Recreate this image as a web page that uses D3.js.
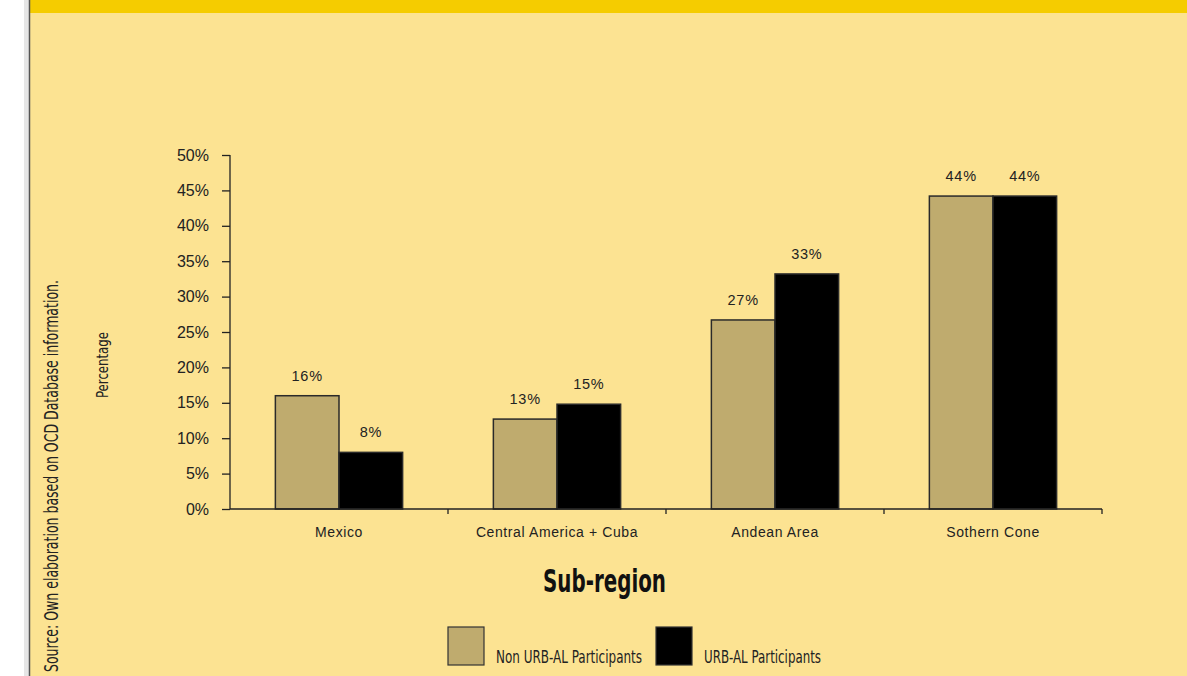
<!DOCTYPE html>
<html><head><meta charset="utf-8">
<script src="https://cdn.jsdelivr.net/npm/d3@7"></script>
<style>html,body{margin:0;padding:0;background:#fff;}svg{display:block;}</style>
</head><body>
<svg id="c" width="1187" height="676"></svg>
<script>
const categories = ["Mexico", "Central America + Cuba", "Andean Area", "Sothern Cone"];
const seriesNames = ["Non URB-AL Participants", "URB-AL Participants"];
const nonUrbal = [16, 12.7, 26.7, 44.2];
const urbal = [8, 14.8, 33.2, 44.2];
const valueLabels = [["16%", "8%"], ["13%", "15%"], ["27%", "33%"], ["44%", "44%"]];
const yTicks = [0, 5, 10, 15, 20, 25, 30, 35, 40, 45, 50];
const colors = ["#BFAB6E", "#000000"];

(function () {
const condensed = "'DejaVu Sans Condensed', 'DejaVu Sans', sans-serif";
const arial = "Arial, 'Liberation Sans', sans-serif";
const svg = d3.select("#c");
svg.append("rect").attr("x", 0).attr("y", 0).attr("width", 1187).attr("height", 676).attr("fill", "#ffffff");
svg.append("rect").attr("x", 24).attr("y", 0).attr("width", 5).attr("height", 676).attr("fill", "#e6e6e6");
svg.append("rect").attr("x", 30).attr("y", 0).attr("width", 1157).attr("height", 676).attr("fill", "#FCE392");
svg.append("rect").attr("x", 30).attr("y", 0).attr("width", 1157).attr("height", 13).attr("fill", "#F5CC00");
svg.append("line").attr("x1", 29.5).attr("x2", 29.5).attr("y1", 0).attr("y2", 676).attr("stroke", "#555").attr("stroke-width", 1.5);

const pL = 230, pR = 1102, pT = 155, pB = 509;
const x0 = d3.scaleBand().domain(categories).range([pL, pR]).paddingInner(0).paddingOuter(0);
const x1 = d3.scaleBand().domain([0, 1]).range([0, x0.bandwidth()]).paddingInner(0).paddingOuter(0.713);
const y = d3.scaleLinear().domain([0, 50]).range([pB, pT]);

const data = categories.map((c, i) => ({cat: c, vals: [nonUrbal[i], urbal[i]], labels: valueLabels[i]}));

const g = svg.append("g");
const groups = g.selectAll("g.grp").data(data).enter().append("g")
  .attr("transform", d => `translate(${x0(d.cat)},0)`);
groups.selectAll("rect").data(d => d.vals.map((v, j) => ({v, j}))).enter().append("rect")
  .attr("x", d => x1(d.j))
  .attr("y", d => y(d.v))
  .attr("width", x1.bandwidth())
  .attr("height", d => y(0) - y(d.v))
  .attr("fill", d => colors[d.j])
  .attr("stroke", "#2a2a2a").attr("stroke-width", 1.5);
groups.selectAll("text").data(d => d.vals.map((v, j) => ({v, j, l: d.labels[j]}))).enter().append("text")
  .attr("x", d => x1(d.j) + x1.bandwidth() / 2)
  .attr("y", d => y(d.v) - 15)
  .attr("text-anchor", "middle")
  .attr("font-family", arial)
  .attr("font-size", 14.5).attr("letter-spacing", 0.7).attr("fill", "#222")
  .text(d => d.l);

const yAxis = d3.axisLeft(y).tickValues(yTicks).tickFormat(d => d + "%").tickSize(8).tickPadding(13);
const ya = svg.append("g").attr("transform", `translate(${pL},0)`).call(yAxis);
ya.select(".domain").attr("stroke", "#222").attr("stroke-width", 1.3).attr("d", `M0,${pT}V${pB}`);
ya.selectAll(".tick line").attr("stroke", "#222").attr("stroke-width", 1.3);
ya.selectAll(".tick text").attr("font-family", arial).attr("font-size", 16).attr("fill", "#222");

const xa = svg.append("g").attr("transform", `translate(0,${pB})`)
  .call(d3.axisBottom(x0).tickSize(0).tickPadding(18));
xa.select(".domain").attr("stroke", "#222").attr("stroke-width", 1.3).attr("d", `M${pL},0H${pR}`);
xa.selectAll(".tick text").attr("font-family", arial).attr("font-size", 14).attr("fill", "#222").attr("letter-spacing", 0.6);
xa.selectAll("line.bt").data(categories).enter().append("line").attr("class", "bt")
  .attr("x1", d => x0(d) + x0.bandwidth()).attr("x2", d => x0(d) + x0.bandwidth())
  .attr("y1", 0).attr("y2", 5).attr("stroke", "#222").attr("stroke-width", 1.3);

svg.append("text").attr("x", 543).attr("y", 592)
  .attr("font-family", condensed).attr("font-stretch", "condensed")
  .attr("font-weight", "bold").attr("font-size", 32).attr("fill", "#111")
  .attr("textLength", 123).attr("lengthAdjust", "spacingAndGlyphs").text("Sub-region");
svg.append("text").attr("transform", "translate(108,398) rotate(-90)")
  .attr("font-family", condensed).attr("font-stretch", "condensed")
  .attr("font-size", 15).attr("fill", "#222")
  .attr("textLength", 66).attr("lengthAdjust", "spacingAndGlyphs").text("Percentage");
svg.append("text").attr("transform", "translate(58,672) rotate(-90)")
  .attr("font-family", condensed).attr("font-stretch", "condensed")
  .attr("font-size", 20).attr("fill", "#222")
  .attr("textLength", 392).attr("lengthAdjust", "spacingAndGlyphs").text("Source: Own elaboration based on OCD Database information.");

const legX = [448, 656];
const legW = [146, 117];
const leg = svg.append("g");
seriesNames.forEach((n, i) => {
  leg.append("rect").attr("x", legX[i]).attr("y", 627).attr("width", 36).attr("height", 38)
    .attr("fill", colors[i]).attr("stroke", "#333").attr("stroke-width", 1.2);
  leg.append("text").attr("x", legX[i] + 48).attr("y", 663)
    .attr("font-family", condensed).attr("font-stretch", "condensed")
    .attr("font-size", 18.5).attr("fill", "#222")
    .attr("textLength", legW[i]).attr("lengthAdjust", "spacingAndGlyphs").text(n);
});
})();
</script>
</body></html>
